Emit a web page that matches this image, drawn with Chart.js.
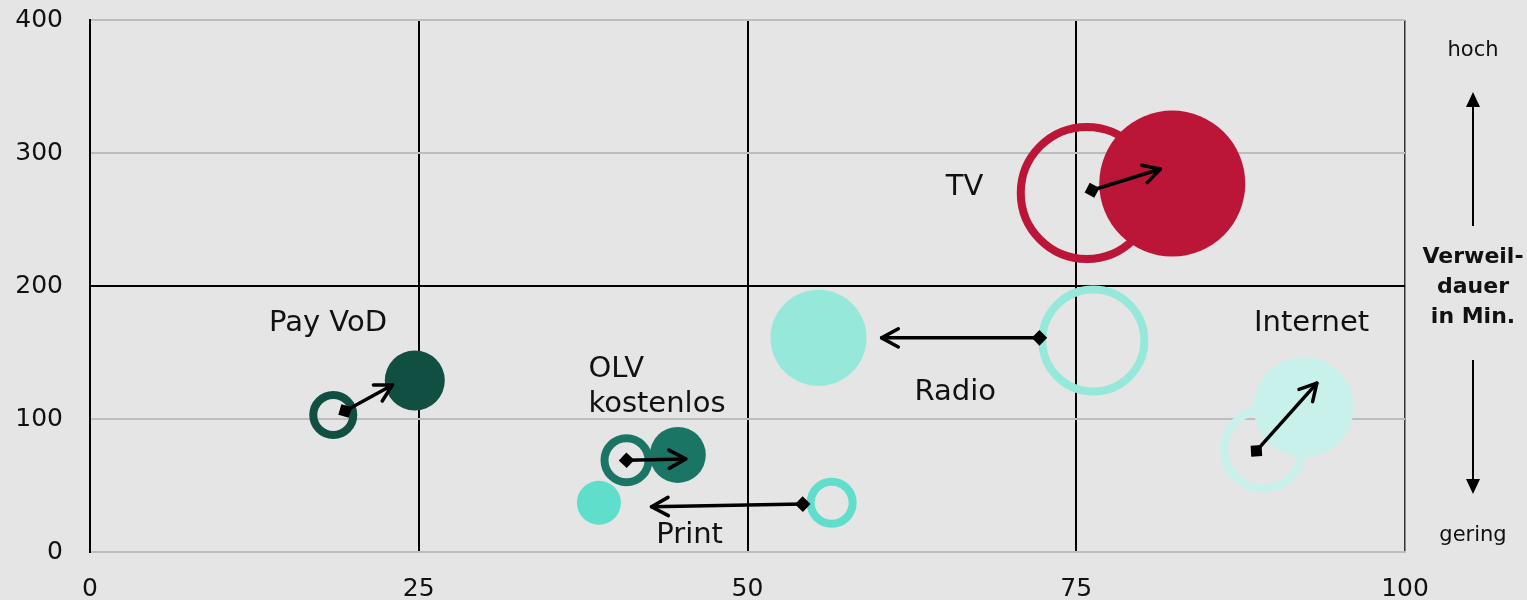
<!doctype html>
<html lang="de">
  <head>
    <meta charset="utf-8">
    <title>Reichweite und Verweildauer</title>
    <script src="https://cdn.jsdelivr.net/npm/chart.js"></script>
    <style>
      * { margin: 0; padding: 0; }
      body { background: #e5e5e5; }
      .chartBox { width: 1527px; height: 600px; }
    </style>
  </head>
  <body>
    <div class="chartBox"><canvas id="myChart"></canvas></div>
    <script>
    // setup
    const media = ['Pay VoD', 'OLV kostenlos', 'Print', 'Radio', 'TV', 'Internet'];
    const colors = ['#114f43', '#1a7565', '#5fdecb', '#96e8da', '#bb1637', '#c9f1eb'];

    // earlier values (rings)
    const oldX = [18.5, 40.8, 56.4, 76.3, 75.8, 89.2];
    const oldY = [103, 69, 37, 159, 270, 77];
    const oldR = [20, 22, 21, 51, 66, 39];

    // current values (filled)
    const newX = [24.7, 44.7, 38.7, 55.4, 82.3, 92.3];
    const newY = [129, 73, 37, 161, 277, 109];
    const newR = [30, 28, 22, 48, 73, 50];

    // arrows, from -> to (data units)
    const arrowFromX = [19.4, 40.8, 54.2, 72.2, 76.2, 88.7];
    const arrowFromY = [106, 69, 36, 161, 272, 76];
    const arrowToX = [23.0, 45.3, 42.7, 60.2, 81.4, 93.3];
    const arrowToY = [125.6, 70, 34, 161, 288, 127];

    // text labels for each medium
    const labelText = [['Pay VoD'], ['OLV', 'kostenlos'], ['Print'], ['Radio'], ['TV'], ['Internet']];
    const labelX = [18.1, 37.9, 45.6, 65.8, 66.5, 92.9];
    const labelY = [172, 137, 12.8, 120, 274, 172];
    const labelAlign = ['center', 'left', 'center', 'center', 'center', 'center'];

    const xTicks = [0, 25, 50, 75, 100];
    const yTicks = [0, 100, 200, 300, 400];

    const FONT = '"DejaVu Sans", sans-serif';

    const data = {
      datasets: [
        {
          label: 'aktuell',
          data: media.map((m, i) => ({ x: newX[i], y: newY[i], r: newR[i] })),
          backgroundColor: colors,
          borderColor: colors,
          borderWidth: 0
        },
        {
          label: 'vorher',
          data: media.map((m, i) => ({ x: oldX[i], y: oldY[i], r: oldR[i] })),
          backgroundColor: 'rgba(0,0,0,0)',
          borderColor: colors,
          borderWidth: 8
        }
      ]
    };

    const background = {
      id: 'background',
      beforeDraw(chart) {
        const { ctx, width, height } = chart;
        ctx.save();
        ctx.fillStyle = '#e5e5e5';
        ctx.fillRect(0, 0, width, height);
        ctx.restore();
      }
    };

    function drawArrow(ctx, x1, y1, x2, y2) {
      const a = Math.atan2(y2 - y1, x2 - x1);
      ctx.save();
      ctx.strokeStyle = '#000';
      ctx.lineWidth = 3.5;
      ctx.lineCap = 'round';
      ctx.lineJoin = 'round';
      ctx.beginPath();
      ctx.moveTo(x1, y1);
      ctx.lineTo(x2, y2);
      ctx.stroke();
      // open arrow head
      const h = 19, sp = 0.5;
      ctx.beginPath();
      ctx.moveTo(x2 - h * Math.cos(a - sp), y2 - h * Math.sin(a - sp));
      ctx.lineTo(x2, y2);
      ctx.lineTo(x2 - h * Math.cos(a + sp), y2 - h * Math.sin(a + sp));
      ctx.stroke();
      // start marker
      ctx.translate(x1, y1);
      ctx.rotate(a + Math.PI / 4);
      ctx.fillStyle = '#000';
      ctx.fillRect(-5.5, -5.5, 11, 11);
      ctx.restore();
    }

    const annotations = {
      id: 'annotations',
      afterDatasetsDraw(chart) {
        const { ctx, chartArea: { top, right, bottom }, scales: { x, y } } = chart;

        // arrows
        for (let i = 0; i < media.length; i++) {
          drawArrow(ctx,
            x.getPixelForValue(arrowFromX[i]), y.getPixelForValue(arrowFromY[i]),
            x.getPixelForValue(arrowToX[i]), y.getPixelForValue(arrowToY[i]));
        }

        // medium labels
        ctx.save();
        ctx.fillStyle = '#111';
        ctx.font = '29px ' + FONT;
        ctx.textBaseline = 'middle';
        for (let i = 0; i < media.length; i++) {
          ctx.textAlign = labelAlign[i];
          const px = x.getPixelForValue(labelX[i]);
          const py = y.getPixelForValue(labelY[i]);
          labelText[i].forEach((line, k) => ctx.fillText(line, px, py + k * 35));
        }
        ctx.restore();

        // side legend on the right
        const cx = (right + chart.width) / 2 + 7;
        ctx.save();
        ctx.fillStyle = '#111';
        ctx.strokeStyle = '#000';
        ctx.textAlign = 'center';
        ctx.textBaseline = 'middle';
        ctx.font = '21px ' + FONT;
        ctx.fillText('hoch', cx, top + 31);
        ctx.fillText('gering', cx, bottom - 16);
        ctx.font = 'bold 22px ' + FONT;
        ctx.fillText('Verweil-', cx, 257);
        ctx.fillText('dauer', cx, 287);
        ctx.fillText('in Min.', cx, 317);

        ctx.lineWidth = 2;
        ctx.beginPath();
        ctx.moveTo(cx, 226); ctx.lineTo(cx, 104);
        ctx.moveTo(cx, 360); ctx.lineTo(cx, 482);
        ctx.stroke();
        ctx.fillStyle = '#000';
        ctx.beginPath();
        ctx.moveTo(cx, 92); ctx.lineTo(cx - 7, 107); ctx.lineTo(cx + 7, 107); ctx.closePath();
        ctx.moveTo(cx, 494); ctx.lineTo(cx - 7, 479); ctx.lineTo(cx + 7, 479); ctx.closePath();
        ctx.fill();
        ctx.restore();
      }
    };

    // config
    const config = {
      type: 'bubble',
      data,
      options: {
        responsive: true,
        maintainAspectRatio: false,
        animation: false,
        events: [],
        layout: { autoPadding: false, padding: { top: 20, right: 122, left: 0, bottom: 0 } },
        plugins: { legend: { display: false }, tooltip: { enabled: false } },
        scales: {
          x: {
            type: 'linear',
            min: 0,
            max: 100,
            afterBuildTicks: scale => { scale.ticks = xTicks.map(v => ({ value: v })); },
            afterFit: scale => { scale.height = 48; scale.paddingLeft = 0; scale.paddingRight = 0; },
            border: { display: true, color: '#bdbdbd', width: 2 },
            grid: {
              drawTicks: false,
              color: c => c.tick && c.tick.value === 100 ? '#333' : '#000',
              lineWidth: c => c.tick && c.tick.value === 100 ? 1.5 : 2
            },
            ticks: { padding: 22, color: '#111', font: { family: FONT, size: 25 } }
          },
          y: {
            type: 'linear',
            min: 0,
            max: 400,
            afterBuildTicks: scale => { scale.ticks = yTicks.map(v => ({ value: v })); },
            afterFit: scale => { scale.width = 90; scale.paddingTop = 0; scale.paddingBottom = 0; },
            border: { display: true, color: '#000', width: 2 },
            grid: {
              drawTicks: false,
              color: c => c.tick && c.tick.value === 200 ? '#000' : '#bdbdbd',
              lineWidth: 2
            },
            ticks: { padding: 27, color: '#111', font: { family: FONT, size: 25 } }
          }
        }
      },
      plugins: [background, annotations]
    };

    // render init block
    const myChart = new Chart(document.getElementById('myChart'), config);
    </script>
  </body>
</html>
